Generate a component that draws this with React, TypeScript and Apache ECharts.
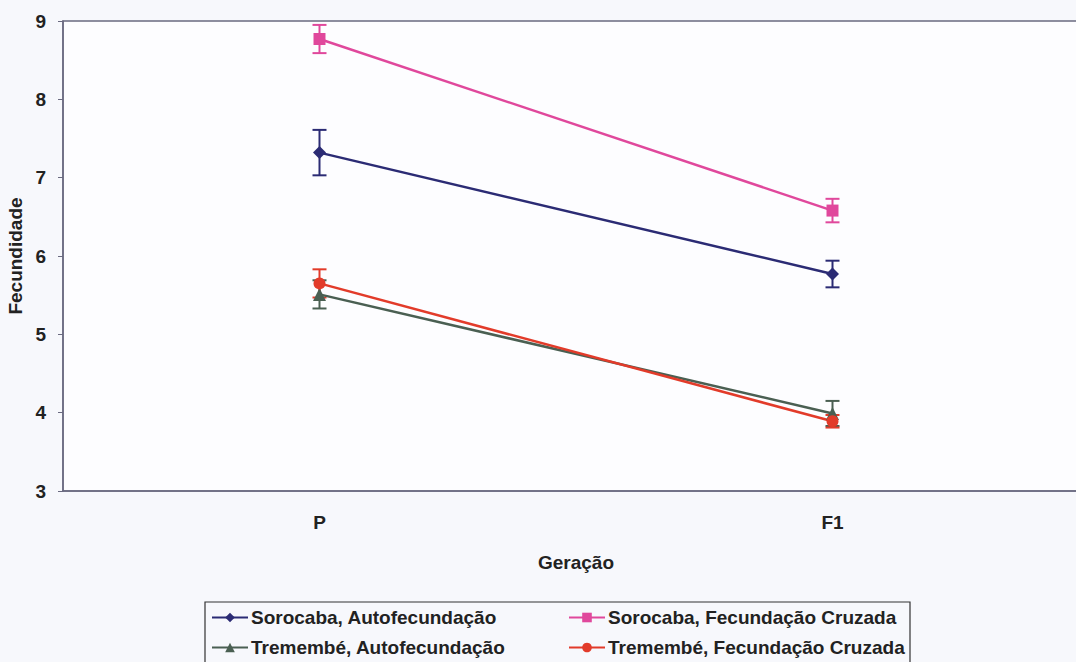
import React, { useEffect, useRef } from "react";
import * as echarts from "echarts";

const categories = ["P", "F1"];
const seriesNames = [
  "Sorocaba, Autofecundação",
  "Sorocaba, Fecundação Cruzada",
  "Tremembé, Autofecundação",
  "Tremembé, Fecundação Cruzada",
];
const sorocabaAuto = [7.32, 5.77];
const sorocabaAutoErr = [0.29, 0.17];
const sorocabaCruz = [8.77, 6.58];
const sorocabaCruzErr = [0.18, 0.15];
const tremembeAuto = [5.51, 3.99];
const tremembeAutoErr = [0.18, 0.16];
const tremembeCruz = [5.65, 3.89];
const tremembeCruzErr = [0.18, 0.08];
const yTicks = [3, 4, 5, 6, 7, 8, 9];

const colors = ["#2b2b74", "#e0489c", "#4a5f52", "#e23b2a"];
const symbols = ["diamond", "rect", "triangle", "circle"];
const values = [sorocabaAuto, sorocabaCruz, tremembeAuto, tremembeCruz];
const errors = [sorocabaAutoErr, sorocabaCruzErr, tremembeAutoErr, tremembeCruzErr];

export default function App() {
  const ref = useRef<HTMLDivElement>(null);
  useEffect(() => {
    const chart = echarts.init(ref.current!, null, { renderer: "svg" });
    const font = "Liberation Sans, Arial, sans-serif";
    const txt = { fontSize: 19, fontWeight: "bold", color: "#222", fontFamily: font };
    const lineSeries = values.map((v, i) => ({
      name: seriesNames[i],
      type: "line",
      data: v,
      symbol: symbols[i],
      symbolSize: i === 2 ? 13 : i === 0 ? 13 : 12,
      lineStyle: { color: colors[i], width: 2.5 },
      itemStyle: { color: colors[i] },
      z: 3,
    }));
    const errSeries = values.map((v, i) => ({
      type: "custom",
      name: seriesNames[i] + " err",
      data: v.map((y, j) => [j, y - errors[i][j], y + errors[i][j]]),
      z: 2,
      renderItem: (params: any, api: any) => {
        const x = api.value(0);
        const lo = api.coord([x, api.value(1)]);
        const hi = api.coord([x, api.value(2)]);
        const cap = 7;
        const style = { stroke: colors[i], lineWidth: 2 };
        return {
          type: "group",
          children: [
            { type: "line", shape: { x1: lo[0], y1: lo[1], x2: hi[0], y2: hi[1] }, style },
            { type: "line", shape: { x1: lo[0] - cap, y1: lo[1], x2: lo[0] + cap, y2: lo[1] }, style },
            { type: "line", shape: { x1: hi[0] - cap, y1: hi[1], x2: hi[0] + cap, y2: hi[1] }, style },
          ],
        };
      },
    }));
    const legendCommon = {
      orient: "vertical",
      top: 603,
      height: 120,
      padding: [5, 5, 5, 5],
      itemGap: 11,
      itemWidth: 36,
      itemHeight: 12,
      textStyle: { ...txt, padding: [0, 0, 0, -2] },
    };
    chart.setOption({
      animation: false,
      backgroundColor: "#f7f8fc",
      textStyle: { fontFamily: font },
      grid: {
        left: 63,
        width: 1026,
        top: 21,
        bottom: 171,
        outerBoundsMode: "none",
        containLabel: false,
        show: true,
        backgroundColor: "#fdfdff",
        borderColor: "#6a6a80",
        borderWidth: 1.5,
      },
      xAxis: {
        type: "category",
        data: categories,
        boundaryGap: true,
        name: "Geração",
        nameLocation: "middle",
        nameGap: 62,
        nameTextStyle: txt,
        axisLine: { lineStyle: { color: "#6a6a80", width: 1.5 } },
        axisTick: { length: 6, lineStyle: { color: "#6a6a80" } },
        axisLabel: { ...txt, margin: 22 },
      },
      yAxis: {
        type: "value",
        min: yTicks[0],
        max: yTicks[yTicks.length - 1],
        interval: 1,
        name: "Fecundidade",
        nameLocation: "middle",
        nameGap: 35,
        nameTextStyle: txt,
        axisLine: { show: true, lineStyle: { color: "#6a6a80", width: 1.5 } },
        axisTick: { show: true, length: 5, lineStyle: { color: "#6a6a80" } },
        splitLine: { show: false },
        axisLabel: { ...txt, margin: 17 },
      },
      legend: [
        { ...legendCommon, data: [seriesNames[0], seriesNames[2]], left: 206 },
        { ...legendCommon, data: [seriesNames[1], seriesNames[3]], left: 563 },
      ],
      graphic: [
        {
          type: "rect",
          shape: { x: 205, y: 602, width: 705, height: 70 },
          style: { fill: "none", stroke: "#333", lineWidth: 1.2 },
          silent: true,
        },
      ],
      series: [...errSeries, ...lineSeries],
    });
    return () => chart.dispose();
  }, []);
  return <div ref={ref} style={{ width: 1076, height: 662, position: "absolute", left: 0, top: 0 }} />;
}
